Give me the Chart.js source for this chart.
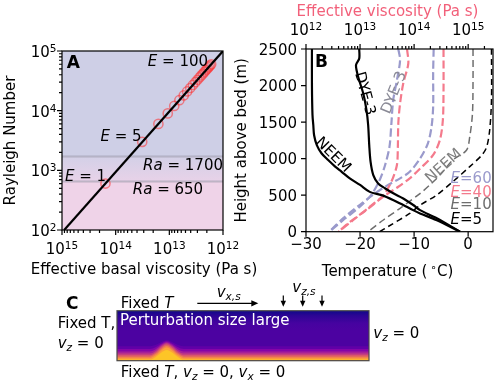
<!DOCTYPE html>
<html>
<head>
<meta charset="utf-8">
<script src="https://cdn.jsdelivr.net/npm/chart.js@4.4.0/dist/chart.umd.min.js"></script>
<style>
  html, body { margin: 0; padding: 0; background: #fff; }
  #fig { position: relative; width: 500px; height: 385px; overflow: hidden; background: #fff; }
  #fig canvas { position: absolute; }
</style>
</head>
<body>
<div id="fig">
  <canvas id="chartB" width="272" height="290" style="left:228px;top:0"></canvas>
  <canvas id="chartA" width="272" height="290" style="left:0;top:0"></canvas>
  <canvas id="chartC" width="500" height="105" style="left:0;top:280px"></canvas>
</div>
<script>
// ---- Panel A: Rayleigh number vs basal viscosity ----
const aEnhancement = [1, 5, 10, 15, 20, 25, 30, 35, 40, 45, 50, 55, 60, 65, 70, 75, 80, 85, 90, 95, 100];
const aRayleigh = [600, 3000, 6000, 9000, 12000, 15000, 18000, 21000, 24000, 27000, 30000,
                   33000, 36000, 39000, 42000, 45000, 48000, 51000, 54000, 57000, 60000];
const aViscosity = [1.55e14, 3.2e13, 1.6e13, 1.07e13, 8.1e12, 6.5e12, 5.4e12, 4.66e12, 4.08e12, 3.64e12, 3.27e12,
                    2.98e12, 2.74e12, 2.53e12, 2.35e12, 2.2e12, 2.06e12, 1.94e12, 1.84e12, 1.74e12, 1.66e12];
const aLineVisc = [9.1e14, 1e12];
const aLineRa = [1e2, 1e5];
const aRaThresholds = [1700, 650];
const aRaTicks = [1e2, 1e3, 1e4, 1e5];
const aViscTicks = [1e15, 1e14, 1e13, 1e12];

// ---- Panel B: temperature profiles (bottom axis) and viscosity profiles (top axis) ----
const bHeightNeem = [2500, 2000, 1600, 1460, 1320, 1185, 1070, 980, 890, 820, 730, 640, 545, 500, 435, 365, 295, 250, 160, 0];
const bTempNeem = [-28.9, -28.9, -28.8, -28.65, -28.5, -28.0, -27.1, -25.9, -24.6, -23.4, -21.9, -20.0, -18.2, -16.0, -13.9, -12.0, -10.2, -8.9, -5.9, -1.5];
const bHeightDye = [2500, 2370, 2280, 2120, 1890, 1660, 1460, 1185, 955, 775, 660, 595, 525, 455, 365, 295, 185, 0];
const bTempDye = [-20.15, -20.15, -20.75, -20.35, -19.4, -18.8, -18.5, -18.3, -18.05, -17.55, -16.65, -15.4, -13.85, -12.0, -10.15, -8.9, -5.8, -1.5];

const bHeightE60Dye = [2500, 2345, 2070, 1800, 1480, 1160, 910, 705, 500, 340, 160, 0];
const bViscE60Dye = [5.1e13, 5.5e13, 4.8e13, 4.1e13, 3.8e13, 3.5e13, 2.9e13, 2.3e13, 1.6e13, 9.8e12, 4.9e12, 2.7e12];
const bHeightE40Dye = [2500, 2300, 2030, 1755, 1480, 1160, 910, 685, 500, 340, 160, 0];
const bViscE40Dye = [7.4e13, 7.8e13, 6.3e13, 5.5e13, 5.1e13, 5.0e13, 4.8e13, 3.8e13, 2.7e13, 1.5e13, 7.5e12, 4.0e12];
const bHeightE60Neem = [2500, 2165, 1710, 1435, 1210, 1005, 820, 730, 640, 525, 365, 185, 0];
const bViscE60Neem = [2.3e14, 2.25e14, 2.25e14, 2.1e14, 1.8e14, 1.3e14, 8.3e13, 5.5e13, 3.3e13, 1.9e13, 9.8e12, 4.9e12, 2.7e12];
const bHeightE40Neem = [2500, 1935, 1525, 1255, 1050, 865, 730, 615, 480, 295, 135, 0];
const bViscE40Neem = [3.5e14, 3.5e14, 3.4e14, 3.0e14, 2.25e14, 1.3e14, 8.3e13, 5.1e13, 2.7e13, 1.3e13, 6.5e12, 4.0e12];
const bHeightE10 = [2500, 2070, 1615, 1300, 1115, 980, 775, 640, 525, 320, 160, 0];
const bViscE10 = [1.23e15, 1.23e15, 1.2e15, 1.07e15, 9.3e14, 5.2e14, 3.0e14, 1.95e14, 1.3e14, 5.5e13, 2.7e13, 1.4e13];
const bHeightE5 = [2500, 1800, 1390, 1160, 1050, 890, 685, 500, 365, 250, 70, 0];
const bViscE5 = [2.7e15, 2.7e15, 2.5e15, 2.2e15, 1.8e15, 1.07e15, 5.2e14, 2.6e14, 1.3e14, 8.3e13, 3.3e13, 2.3e13];

const bHeightTicks = [0, 500, 1000, 1500, 2000, 2500];
const bTempTicks = [-30, -20, -10, 0];
const bViscTicks = [1e12, 1e13, 1e14, 1e15];

// ---- Panel C: model domain temperature field (contour levels, warmest first) ----
const cX = [0, 0.13, 0.155, 0.175, 0.197, 0.22, 0.24, 0.265, 1];
const cLevels = [
  [0.022, 0.022, 0.08, 0.16, 0.215, 0.16, 0.08, 0.022, 0.022],
  [0.05, 0.05, 0.112, 0.2, 0.262, 0.2, 0.112, 0.05, 0.05],
  [0.08, 0.08, 0.142, 0.23, 0.292, 0.23, 0.142, 0.08, 0.08],
  [0.11, 0.11, 0.17, 0.26, 0.322, 0.26, 0.17, 0.11, 0.11],
  [0.145, 0.145, 0.2, 0.29, 0.35, 0.29, 0.2, 0.145, 0.145],
  [0.185, 0.185, 0.235, 0.315, 0.37, 0.315, 0.235, 0.185, 0.185],
  [0.235, 0.235, 0.275, 0.34, 0.39, 0.34, 0.275, 0.235, 0.235],
  [0.29, 0.29, 0.32, 0.37, 0.41, 0.37, 0.32, 0.29, 0.29]
];
const cTopX = [0, 1];
const cTop = [1, 1];

const FONT = "'DejaVu Sans', sans-serif";
Chart.defaults.font.family = FONT;
Chart.defaults.font.size = 15;
Chart.defaults.color = '#000';

function pts(xs, ys) { return xs.map((x, i) => ({ x: x, y: ys[i] })); }

function fontSpec(size, style) {
  let f = '';
  if (style.indexOf('it') >= 0) f += 'italic ';
  if (style.indexOf('bf') >= 0) f += 'bold ';
  return f + size + 'px ' + FONT;
}

// draw text made of parts [text, style]; style may hold it, bf, sub, sup
function drawRich(ctx, parts, x, y, o) {
  o = o || {};
  const size = o.size || 15;
  ctx.save();
  ctx.translate(x, y);
  if (o.rot) ctx.rotate(o.rot * Math.PI / 180);
  ctx.fillStyle = o.color || '#000';
  ctx.textBaseline = 'alphabetic';
  ctx.textAlign = 'left';
  let total = 0;
  const items = parts.map(p => {
    const style = p[1] || '';
    const isSub = style.indexOf('sub') >= 0, isSup = style.indexOf('sup') >= 0;
    const font = fontSpec((isSub || isSup) ? size * 0.7 : size, style);
    ctx.font = font;
    const w = ctx.measureText(p[0]).width;
    total += w;
    return { t: p[0], font: font, w: w, dy: isSub ? size * 0.2 : (isSup ? -size * 0.33 : 0) };
  });
  let cx = o.align === 'right' ? -total : (o.align === 'center' ? -total / 2 : 0);
  const mid = o.middle ? size * 0.36 : 0;
  items.forEach(it => {
    ctx.font = it.font;
    ctx.fillText(it.t, cx, it.dy + mid);
    cx += it.w;
  });
  ctx.restore();
}

function drawPow(ctx, v, x, y, align) {
  drawRich(ctx, [['10'], [String(Math.round(Math.log10(v))), 'sup']], x, y, { align: align });
}

function logMinors(lo, hi) {
  const out = [];
  for (let e = Math.floor(Math.log10(lo)); e <= Math.ceil(Math.log10(hi)); e++) {
    for (let m = 2; m <= 9; m++) {
      const v = m * Math.pow(10, e);
      if (v > lo && v < hi) out.push(v);
    }
  }
  return out;
}

function tickMarks(ctx, a, scale, values, len, side) {
  ctx.beginPath();
  values.forEach(v => {
    const p = scale.getPixelForValue(v);
    if (side === 'left') { ctx.moveTo(a.left - len, p); ctx.lineTo(a.left, p); }
    if (side === 'bottom') { ctx.moveTo(p, a.bottom); ctx.lineTo(p, a.bottom + len); }
    if (side === 'top') { ctx.moveTo(p, a.top); ctx.lineTo(p, a.top - len); }
  });
  ctx.stroke();
}

function fmtMinus(v) { return v < 0 ? '\u2212' + Math.abs(v) : String(v); }

function arrow(ctx, x1, y1, x2, y2, head) {
  const ang = Math.atan2(y2 - y1, x2 - x1);
  const c = Math.cos(ang), s = Math.sin(ang);
  ctx.beginPath();
  ctx.moveTo(x1, y1);
  ctx.lineTo(x2 - c * head * 0.8, y2 - s * head * 0.8);
  ctx.stroke();
  ctx.beginPath();
  ctx.moveTo(x2, y2);
  ctx.lineTo(x2 - head * c + head * 0.45 * s, y2 - head * s - head * 0.45 * c);
  ctx.lineTo(x2 - head * c - head * 0.45 * s, y2 - head * s + head * 0.45 * c);
  ctx.closePath();
  ctx.fill();
}

const hidden = { ticks: { display: false }, grid: { display: false }, border: { display: false } };

// ---------- Panel A ----------
const panelAPlugin = {
  id: 'panelA',
  beforeDatasetsDraw(chart) {
    const { ctx, chartArea: a, scales: { y } } = chart;
    const yHi = y.getPixelForValue(aRaThresholds[0]);
    const yLo = y.getPixelForValue(aRaThresholds[1]);
    ctx.save();
    ctx.fillStyle = '#cecfe6';
    ctx.fillRect(a.left, a.top, a.width, yHi - a.top);
    const g = ctx.createLinearGradient(0, yHi, 0, yLo);
    g.addColorStop(0, '#d3d0e7');
    g.addColorStop(1, '#e8d2e8');
    ctx.fillStyle = g;
    ctx.fillRect(a.left, yHi, a.width, yLo - yHi);
    ctx.fillStyle = '#efd3e8';
    ctx.fillRect(a.left, yLo, a.width, a.bottom - yLo);
    ctx.strokeStyle = 'rgba(150,145,165,0.55)';
    ctx.lineWidth = 2;
    [yHi, yLo].forEach(p => { ctx.beginPath(); ctx.moveTo(a.left, p); ctx.lineTo(a.right, p); ctx.stroke(); });
    ctx.restore();
  },
  afterDraw(chart) {
    const { ctx, chartArea: a, scales: { x, y } } = chart;
    ctx.save();
    ctx.strokeStyle = '#000';
    ctx.fillStyle = '#000';
    ctx.lineWidth = 1.2;
    ctx.strokeRect(a.left, a.top, a.width, a.height);
    tickMarks(ctx, a, y, aRaTicks, 5, 'left');
    tickMarks(ctx, a, y, logMinors(y.min, y.max), 3, 'left');
    tickMarks(ctx, a, x, aViscTicks, 5, 'bottom');
    tickMarks(ctx, a, x, logMinors(x.min, x.max), 3, 'bottom');
    aRaTicks.forEach(v => drawPow(ctx, v, a.left - 5.5, y.getPixelForValue(v) + 6, 'right'));
    aViscTicks.forEach(v => drawPow(ctx, v, x.getPixelForValue(v), a.bottom + 24, 'center'));
    drawRich(ctx, [['Effective basal viscosity (Pa s)']], (a.left + a.right) / 2 + 1.5, a.bottom + 43.5, { align: 'center' });

    drawRich(ctx, [['A', 'bf']], a.left + 4.7, a.top + 17.3, { size: 17 });
    const notes = [
      { parts: [['E', 'it'], [' = 100']], vx: 1.9e12, vy: 5.7e4, align: 'right' },
      { parts: [['E', 'it'], [' = 5']], vx: 3.3e13, vy: 3100, align: 'right' },
      { parts: [['E', 'it'], [' = 1']], vx: 8.8e14, vy: 660, align: 'left' },
      { parts: [['Ra', 'it'], [' = 1700']], vx: 1.0e12, vy: 1030, align: 'right' },
      { parts: [['Ra', 'it'], [' = 650']], vx: 4.8e13, vy: 394, align: 'left' }
    ];
    notes.forEach(n => drawRich(ctx, n.parts, x.getPixelForValue(n.vx), y.getPixelForValue(n.vy), { align: n.align }));
    ctx.restore();
  }
};

new Chart(document.getElementById('chartA'), {
  type: 'scatter',
  data: {
    datasets: [
      { type: 'line', data: pts(aLineVisc, aLineRa), borderColor: '#000', borderWidth: 2.2, pointRadius: 0, fill: false },
      { data: pts(aViscosity, aRayleigh), borderColor: 'rgba(255,45,45,0.55)', backgroundColor: 'rgba(0,0,0,0)',
        borderWidth: 1.5, pointRadius: 4.6 }
    ]
  },
  options: {
    responsive: false,
    animation: false,
    layout: { padding: { left: 2, top: 51, right: 49, bottom: 13 } },
    plugins: { legend: { display: false }, tooltip: { enabled: false } },
    scales: {
      x: Object.assign({ type: 'logarithmic', min: 1e12, max: 1e15, reverse: true,
        afterFit: s => { s.height = 47; } }, hidden),
      y: Object.assign({ type: 'logarithmic', min: 1e2, max: 1e5,
        title: { display: true, text: 'Rayleigh Number', padding: 0 },
        afterFit: s => { s.width = 60; } }, hidden)
    }
  },
  plugins: [panelAPlugin]
});

// ---------- Panel B ----------
const LAV = '#9a9acc', PINK = '#f47a8c', GRAY = '#6e6e6e';

const panelBPlugin = {
  id: 'panelB',
  afterDraw(chart) {
    const { ctx, chartArea: a, scales: { x, x2, y } } = chart;
    ctx.save();
    ctx.strokeStyle = '#000';
    ctx.fillStyle = '#000';
    ctx.lineWidth = 1.2;
    ctx.strokeRect(a.left, a.top, a.width, a.height);
    tickMarks(ctx, a, y, bHeightTicks, 5, 'left');
    tickMarks(ctx, a, x, bTempTicks, 5, 'bottom');
    tickMarks(ctx, a, x2, bViscTicks, 5, 'top');
    tickMarks(ctx, a, x2, logMinors(x2.min, x2.max), 3, 'top');
    ctx.font = '15px ' + FONT;
    ctx.textBaseline = 'alphabetic';
    ctx.textAlign = 'right';
    bHeightTicks.forEach(v => ctx.fillText(String(v), a.left - 9, y.getPixelForValue(v) + 5.5));
    ctx.textAlign = 'center';
    bTempTicks.forEach(v => ctx.fillText(fmtMinus(v), x.getPixelForValue(v), a.bottom + 17));
    bViscTicks.forEach(v => drawPow(ctx, v, x2.getPixelForValue(v), a.top - 14, 'center'));

    const tx = a.left + 0.436 * a.width;
    drawRich(ctx, [['Temperature (\u2009'], ['\u2218', 'sup'], ['C)']], tx, a.bottom + 44.3, { align: 'center' });
    drawRich(ctx, [['Effective viscosity (Pa s)']], tx, a.top - 33, { align: 'center', color: '#f2607a' });

    const px = v => x.getPixelForValue(v), py = v => y.getPixelForValue(v);
    drawRich(ctx, [['B', 'bf']], px(-28.34), py(2250), { size: 17 });
    drawRich(ctx, [['DYE-3']], px(-18.9), py(1894), { align: 'center', middle: true, rot: 75 });
    drawRich(ctx, [['DYE-3']], px(-13.92), py(1908), { align: 'center', middle: true, rot: -68, color: '#8a8a96' });
    drawRich(ctx, [['NEEM']], px(-24.82), py(1061), { align: 'center', middle: true, rot: 45 });
    drawRich(ctx, [['NEEM']], px(-4.68), py(911), { align: 'center', middle: true, rot: -42, color: '#808080' });
    const eLabels = [['=60', LAV, 661], ['=40', PINK, 478], ['=10', GRAY, 306], ['=5', '#000', 105]];
    eLabels.forEach(e => drawRich(ctx, [['E', 'it'], [e[0]]], px(-3.25), py(e[2]), { color: e[1] }));
    ctx.restore();
  }
};

function profile(xs, ys, axis, color, width, dash) {
  return { type: 'line', data: pts(xs, ys), xAxisID: axis, borderColor: color, borderWidth: width,
           borderDash: dash, pointRadius: 0, tension: 0.3, fill: false };
}

new Chart(document.getElementById('chartB'), {
  type: 'scatter',
  data: {
    datasets: [
      profile(bTempNeem, bHeightNeem, 'x', '#000', 2.2, []),
      profile(bTempDye, bHeightDye, 'x', '#000', 2.2, []),
      profile(bViscE60Dye, bHeightE60Dye, 'x2', LAV, 2.2, [8, 3.5]),
      profile(bViscE40Dye, bHeightE40Dye, 'x2', PINK, 2.2, [8, 3.5]),
      profile(bViscE60Neem, bHeightE60Neem, 'x2', LAV, 2.2, [8, 3.5]),
      profile(bViscE40Neem, bHeightE40Neem, 'x2', PINK, 2.2, [8, 3.5]),
      profile(bViscE10, bHeightE10, 'x2', GRAY, 1.5, [7, 4]),
      profile(bViscE5, bHeightE5, 'x2', '#000', 1.5, [6, 4])
    ]
  },
  options: {
    responsive: false,
    animation: false,
    layout: { padding: { left: 5.3, top: 0, right: 7, bottom: 0 } },
    plugins: { legend: { display: false }, tooltip: { enabled: false } },
    scales: {
      x: Object.assign({ type: 'linear', position: 'bottom', min: -30, max: 4.6,
        afterFit: s => { s.height = 58.3; } }, hidden),
      x2: Object.assign({ type: 'logarithmic', position: 'top', min: 1e12, max: 2.88e15,
        afterFit: s => { s.height = 49; } }, hidden),
      y: Object.assign({ type: 'linear', min: 0, max: 2500,
        title: { display: true, text: 'Height above bed (m)', padding: 0 },
        afterFit: s => { s.width = 72.7; } }, hidden)
    }
  },
  plugins: [panelBPlugin]
});

// ---------- Panel C ----------
const cColors = ['#fdc527', '#fca338', '#f1844b', '#de6164', '#c5407e', '#a62098', '#8406a7', '#6100a7'];

const panelCPlugin = {
  id: 'panelC',
  afterDraw(chart) {
    const { ctx, chartArea: a } = chart;
    ctx.save();
    ctx.strokeStyle = '#4a4a4a';
    ctx.lineWidth = 1.2;
    ctx.strokeRect(a.left, a.top, a.width, a.height);
    drawRich(ctx, [['Perturbation size large']], 120, 45, { color: '#fff' });
    drawRich(ctx, [['C', 'bf']], 66, 29.3, { size: 17 });
    drawRich(ctx, [['Fixed '], ['T', 'it']], 120.7, 28);
    drawRich(ctx, [['v', 'it'], ['x,s', 'it sub']], 216.7, 16.7);
    drawRich(ctx, [['v', 'it'], ['z,s', 'it sub']], 292.3, 11.7);
    drawRich(ctx, [['Fixed T,']], 57.7, 48.3);
    drawRich(ctx, [['v', 'it'], ['z', 'it sub'], [' = 0']], 57.7, 68.3);
    drawRich(ctx, [['v', 'it'], ['z', 'it sub'], [' = 0']], 373.3, 58.3);
    drawRich(ctx, [['Fixed '], ['T', 'it'], [', '], ['v', 'it'], ['z', 'it sub'], [' = 0, '], ['v', 'it'], ['x', 'it sub'], [' = 0']], 120.7, 96.7);
    ctx.strokeStyle = '#000';
    ctx.fillStyle = '#000';
    ctx.lineWidth = 1.2;
    arrow(ctx, 197.3, 23.3, 258.3, 23.3, 7);
    [283.3, 302.7, 322].forEach(ax => arrow(ctx, ax, 15.5, ax, 26.7, 6));
    ctx.restore();
  }
};

const cDatasets = cLevels.map((lv, i) => ({
  type: 'line', data: pts(cX, lv), borderWidth: 0, borderColor: 'rgba(0,0,0,0)', pointRadius: 0,
  backgroundColor: cColors[i], fill: 'origin', cubicInterpolationMode: 'monotone'
}));
cDatasets.push({
  type: 'line', data: pts(cTopX, cTop), borderWidth: 0, borderColor: 'rgba(0,0,0,0)', pointRadius: 0, fill: 'origin',
  backgroundColor: ctx => {
    const area = ctx.chart.chartArea;
    if (!area) return '#4c02a1';
    const g = ctx.chart.ctx.createLinearGradient(0, area.top, 0, area.bottom);
    g.addColorStop(0, '#0f0888');
    g.addColorStop(0.1, '#2c0594');
    g.addColorStop(0.25, '#4603a0');
    g.addColorStop(0.4, '#4c02a1');
    g.addColorStop(1, '#4c02a1');
    return g;
  }
});

new Chart(document.getElementById('chartC'), {
  type: 'scatter',
  data: { datasets: cDatasets },
  options: {
    responsive: false,
    animation: false,
    layout: { padding: { left: 117, right: 131, top: 30.7, bottom: 24.3 } },
    plugins: { legend: { display: false }, tooltip: { enabled: false } },
    scales: {
      x: { type: 'linear', min: 0, max: 1, display: false },
      y: { type: 'linear', min: 0, max: 1, display: false }
    }
  },
  plugins: [panelCPlugin]
});
</script>
</body>
</html>
